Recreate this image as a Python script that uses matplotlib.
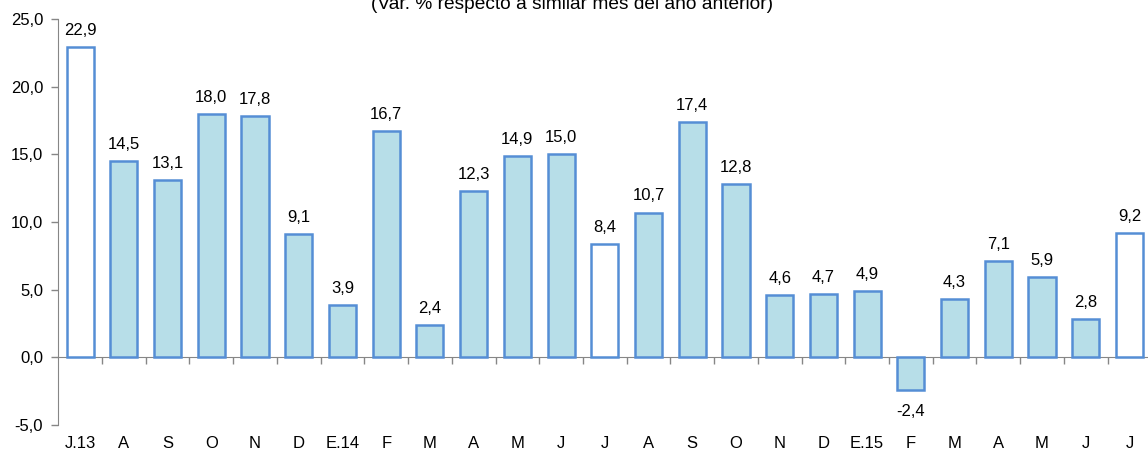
import numpy as np
import matplotlib.pyplot as plt
from matplotlib.transforms import blended_transform_factory

plt.rcParams['font.family'] = ['Liberation Sans', 'DejaVu Sans']

# dataset
months = ['J.13', 'A', 'S', 'O', 'N', 'D', 'E.14', 'F', 'M', 'A', 'M', 'J', 'J',
          'A', 'S', 'O', 'N', 'D', 'E.15', 'F', 'M', 'A', 'M', 'J', 'J']
values = [22.9, 14.5, 13.1, 18.0, 17.8, 9.1, 3.9, 16.7, 2.4, 12.3, 14.9, 15.0, 8.4,
          10.7, 17.4, 12.8, 4.6, 4.7, 4.9, -2.4, 4.3, 7.1, 5.9, 2.8, 9.2]
highlight = [0, 12, 24]   # julio: barras en blanco

fill = '#B7DEE8'
edge = '#558ED5'
axis_col = '#868686'
fs = 12

fig = plt.figure(figsize=(11.48, 4.53), dpi=100)
ax = fig.add_axes([58.3 / 1148, 28 / 453, 1093 / 1148, 406 / 453])

x = np.arange(len(values))
colors = ['white' if i in highlight else fill for i in x]
ax.bar(x, values, width=0.62, color=colors, edgecolor=edge, linewidth=1.8, zorder=3)

# etiquetas de valor
for xi, v in zip(x, values):
    lab = f'{v:.1f}'.replace('.', ',')
    if v >= 0:
        ax.annotate(lab, (xi, v), xytext=(0, 6.5), textcoords='offset points',
                    ha='center', va='bottom', fontsize=fs)
    else:
        ax.annotate(lab, (xi, v), xytext=(0, -10), textcoords='offset points',
                    ha='center', va='top', fontsize=fs)

ax.set_xlim(-0.5, len(values) - 0.5)
ax.set_ylim(-5, 25)
ax.set_yticks(np.arange(-5, 26, 5))
ax.set_yticklabels([f'{t:.1f}'.replace('.', ',') for t in np.arange(-5, 26, 5)], fontsize=fs)
ax.tick_params(axis='y', length=5, width=1, color=axis_col, pad=6)

# eje horizontal en el cero, marcas entre categorías
ax.spines['bottom'].set_position(('data', 0))
ax.spines['bottom'].set_color(axis_col)
ax.spines['left'].set_color(axis_col)
ax.spines['top'].set_visible(False)
ax.spines['right'].set_visible(False)
ax.set_xticks(x[:-1] + 0.5)
ax.set_xticklabels([])
ax.tick_params(axis='x', length=5, width=1, color=axis_col, direction='out')

trans = blended_transform_factory(ax.transData, ax.transAxes)
for xi, m in zip(x, months):
    ax.text(xi, -0.045, m, transform=trans, ha='center', va='center', fontsize=fs)

fig.text(0.498, 0.981, '(Var. % respecto a similar mes del año anterior)',
         ha='center', va='baseline', fontsize=13.8)

fig.savefig('out.png', dpi=100)
